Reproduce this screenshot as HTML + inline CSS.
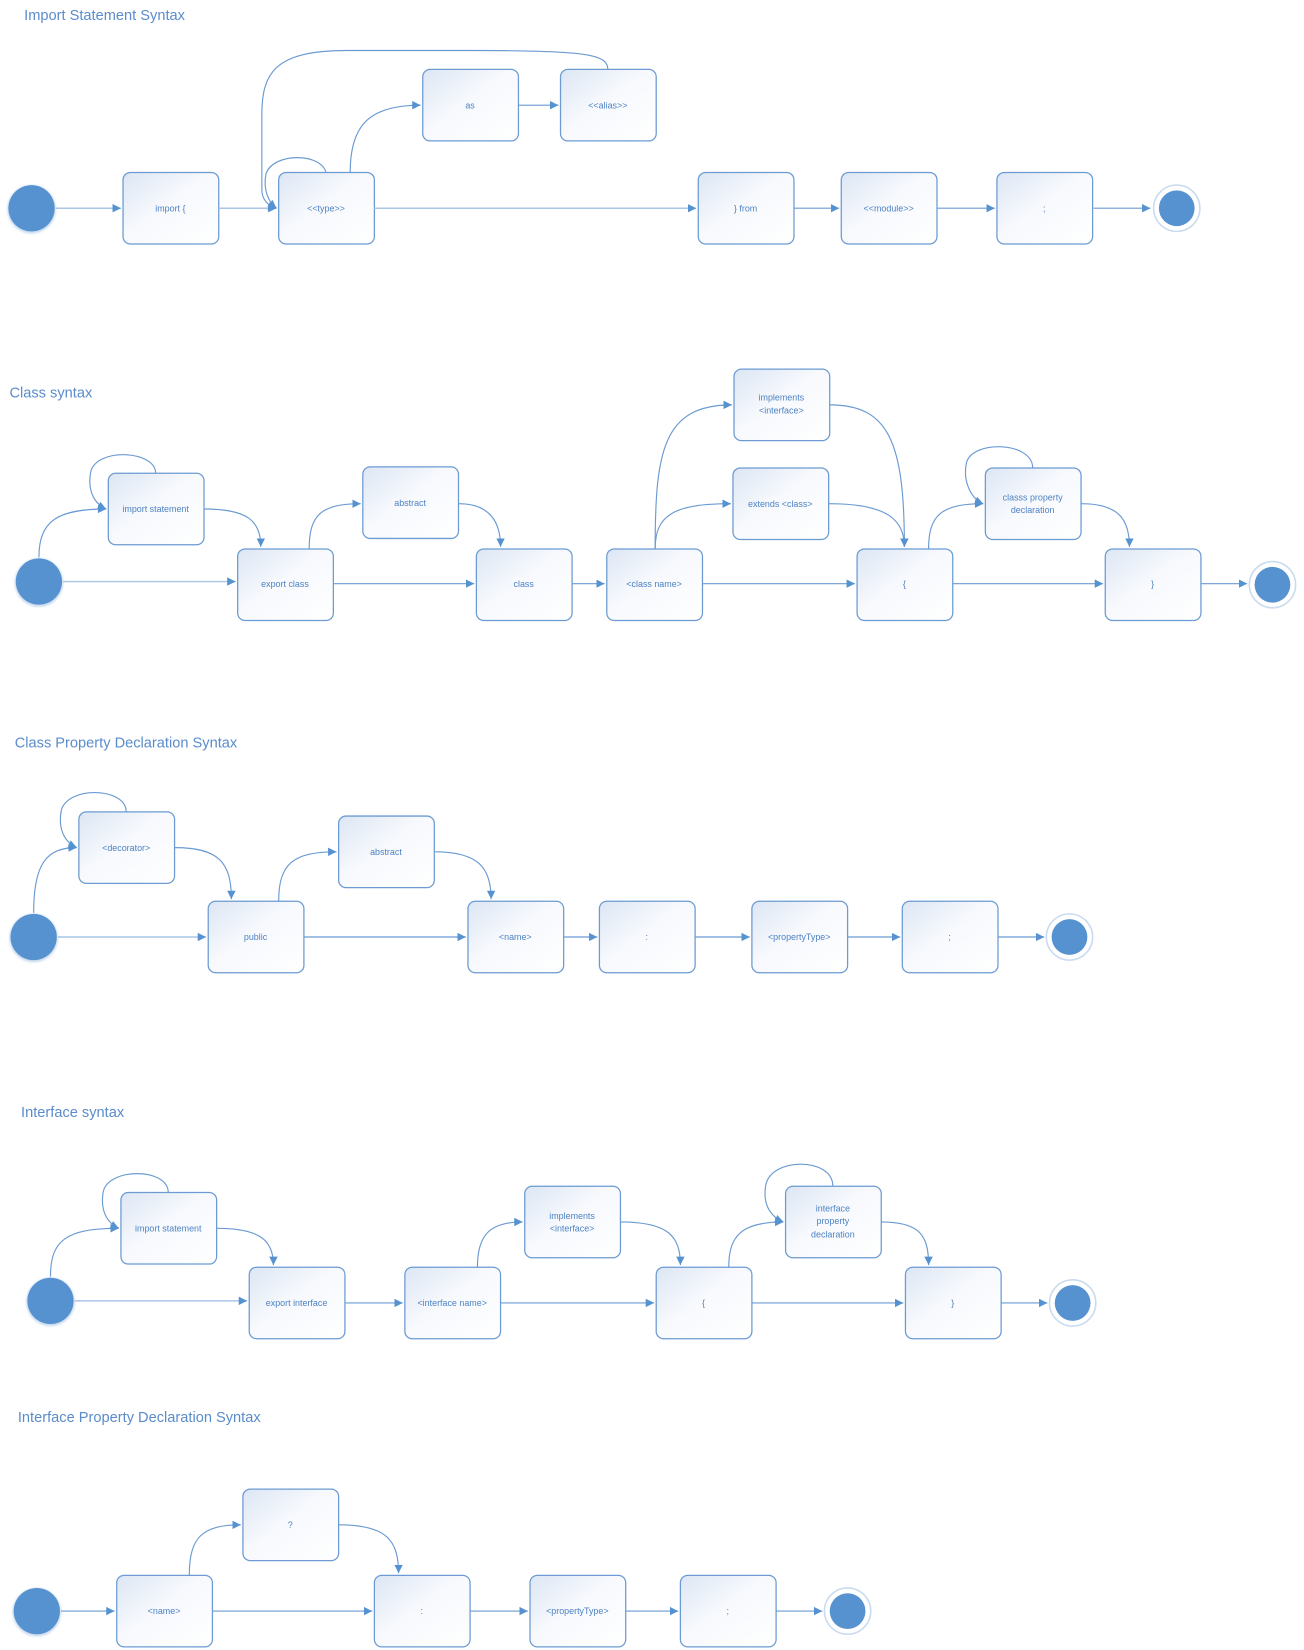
<!DOCTYPE html>
<html><head><meta charset="utf-8"><style>
html,body{margin:0;padding:0;background:#fff;}
svg{display:block;}
.t{font-family:"Liberation Sans",sans-serif;font-size:13.9px;fill:#5a8ccb;}
.l{font-family:"Liberation Sans",sans-serif;font-size:8.5px;fill:#4d82c3;text-anchor:middle;}
.b{fill:url(#g);stroke:#6b9bd2;stroke-width:1.2;}
.c{fill:none;stroke:#6b9bd2;stroke-width:1.1;}
.h{fill:none;stroke:#a9c6e6;stroke-width:1.4;}
.s{fill:#5592cf;}
</style></head><body>
<svg width="1304" height="1650" viewBox="0 0 1240 1569" xmlns="http://www.w3.org/2000/svg">
<defs>
<linearGradient id="g" x1="0" y1="0" x2="1" y2="1"><stop offset="0" stop-color="#dce6f4"/><stop offset="0.45" stop-color="#f7f9fd"/><stop offset="1" stop-color="#ffffff"/></linearGradient>
<marker id="a" viewBox="0 0 10 10" refX="10" refY="5" markerWidth="8" markerHeight="8" markerUnits="userSpaceOnUse" orient="auto"><path d="M0,0 L10,5 L0,10 z" fill="#5592cf"/></marker>
<filter id="sh"><feGaussianBlur stdDeviation="1"/></filter>
</defs>

<!-- Section 1 -->
<text class="t" x="23" y="19">Import Statement Syntax</text>
<circle cx="30" cy="199" r="23" fill="#c7d9ee" filter="url(#sh)"/><circle class="s" cx="30" cy="198" r="22"/>
<rect class="b" x="117" y="164" width="91" height="68" rx="7"/><text class="l" x="162" y="201">import {</text>
<rect class="b" x="265" y="164" width="91" height="68" rx="7"/><text class="l" x="310" y="201">&lt;&lt;type&gt;&gt;</text>
<rect class="b" x="402" y="66" width="91" height="68" rx="7"/><text class="l" x="447" y="103">as</text>
<rect class="b" x="533" y="66" width="91" height="68" rx="7"/><text class="l" x="578" y="103">&lt;&lt;alias&gt;&gt;</text>
<rect class="b" x="664" y="164" width="91" height="68" rx="7"/><text class="l" x="709" y="201">} from</text>
<rect class="b" x="800" y="164" width="91" height="68" rx="7"/><text class="l" x="845" y="201">&lt;&lt;module&gt;&gt;</text>
<rect class="b" x="948" y="164" width="91" height="68" rx="7"/><text class="l" x="993" y="201">;</text>
<circle cx="1119" cy="198" r="22" fill="#fff" stroke="#c9dbef" stroke-width="1.5"/><circle class="s" cx="1119" cy="198" r="17"/>
<path class="h" d="M53,198 H115" marker-end="url(#a)"/>
<path class="h" d="M208,198 H263" marker-end="url(#a)"/>
<path class="h" d="M356,198 H662" marker-end="url(#a)"/>
<path class="c" d="M755,198 H798" marker-end="url(#a)"/>
<path class="c" d="M891,198 H946" marker-end="url(#a)"/>
<path class="c" d="M1040,198 H1094" marker-end="url(#a)"/>
<path class="c" d="M493,100 H531" marker-end="url(#a)"/>
<path class="c" d="M333,164 C333,120 350,100 400,100" marker-end="url(#a)"/>
<path class="c" d="M310,164 C305,145 260,145 253,165 C250,180 255,192 263,198" marker-end="url(#a)"/>
<path class="c" d="M578,66 C578,52 560,48 450,48 L330,48 C260,48 249,70 249,110 L249,180 C249,190 255,196 263,198" marker-end="url(#a)"/>

<!-- Section 2 -->
<text class="t" x="9" y="378">Class syntax</text>
<circle cx="37" cy="554" r="23" fill="#c7d9ee" filter="url(#sh)"/><circle class="s" cx="37" cy="553" r="22"/>
<rect class="b" x="103" y="450" width="91" height="68" rx="7"/><text class="l" x="148" y="487">import statement</text>
<rect class="b" x="226" y="522" width="91" height="68" rx="7"/><text class="l" x="271" y="558">export class</text>
<rect class="b" x="345" y="444" width="91" height="68" rx="7"/><text class="l" x="390" y="481">abstract</text>
<rect class="b" x="453" y="522" width="91" height="68" rx="7"/><text class="l" x="498" y="558">class</text>
<rect class="b" x="577" y="522" width="91" height="68" rx="7"/><text class="l" x="622" y="558">&lt;class name&gt;</text>
<rect class="b" x="698" y="351" width="91" height="68" rx="7"/><text class="l" x="743" y="381">implements</text><text class="l" x="743" y="393">&lt;interface&gt;</text>
<rect class="b" x="697" y="445" width="91" height="68" rx="7"/><text class="l" x="742" y="482">extends &lt;class&gt;</text>
<rect class="b" x="815" y="522" width="91" height="68" rx="7"/><text class="l" x="860" y="558">{</text>
<rect class="b" x="937" y="445" width="91" height="68" rx="7"/><text class="l" x="982" y="476">classs property</text><text class="l" x="982" y="488">declaration</text>
<rect class="b" x="1051" y="522" width="91" height="68" rx="7"/><text class="l" x="1096" y="558">}</text>
<circle cx="1210" cy="556" r="22" fill="#fff" stroke="#c9dbef" stroke-width="1.5"/><circle class="s" cx="1210" cy="556" r="17"/>
<path class="h" d="M60,553 H224" marker-end="url(#a)"/>
<path class="c" d="M317,555 H451" marker-end="url(#a)"/>
<path class="c" d="M544,555 H575" marker-end="url(#a)"/>
<path class="c" d="M668,555 H813" marker-end="url(#a)"/>
<path class="c" d="M906,555 H1049" marker-end="url(#a)"/>
<path class="c" d="M1142,555 H1186" marker-end="url(#a)"/>
<path class="c" d="M37,530 C37,495 55,484 101,484" marker-end="url(#a)"/>
<path class="c" d="M148,450 C148,428 90,425 86,450 C83,470 92,480 101,484" marker-end="url(#a)"/>
<path class="c" d="M194,484 C235,484 248,495 248,520" marker-end="url(#a)"/>
<path class="c" d="M294,522 C294,490 305,479 343,479" marker-end="url(#a)"/>
<path class="c" d="M436,479 C465,479 476,495 476,520" marker-end="url(#a)"/>
<path class="c" d="M623,522 C623,430 630,385 696,385" marker-end="url(#a)"/>
<path class="c" d="M623,522 C623,490 640,479 695,479" marker-end="url(#a)"/>
<path class="c" d="M789,385 C845,385 860,420 860,520" marker-end="url(#a)"/>
<path class="c" d="M788,479 C845,479 860,495 860,520" marker-end="url(#a)"/>
<path class="c" d="M883,522 C883,490 895,479 935,479" marker-end="url(#a)"/>
<path class="c" d="M982,445 C982,420 925,418 919,440 C915,460 925,475 935,479" marker-end="url(#a)"/>
<path class="c" d="M1028,479 C1065,479 1074,495 1074,520" marker-end="url(#a)"/>

<!-- Section 3 -->
<text class="t" x="14" y="711">Class Property Declaration Syntax</text>
<circle cx="32" cy="892" r="23" fill="#c7d9ee" filter="url(#sh)"/><circle class="s" cx="32" cy="891" r="22"/>
<rect class="b" x="75" y="772" width="91" height="68" rx="7"/><text class="l" x="120" y="809">&lt;decorator&gt;</text>
<rect class="b" x="198" y="857" width="91" height="68" rx="7"/><text class="l" x="243" y="894">public</text>
<rect class="b" x="322" y="776" width="91" height="68" rx="7"/><text class="l" x="367" y="813">abstract</text>
<rect class="b" x="445" y="857" width="91" height="68" rx="7"/><text class="l" x="490" y="894">&lt;name&gt;</text>
<rect class="b" x="570" y="857" width="91" height="68" rx="7"/><text class="l" x="615" y="894">:</text>
<rect class="b" x="715" y="857" width="91" height="68" rx="7"/><text class="l" x="760" y="894">&lt;propertyType&gt;</text>
<rect class="b" x="858" y="857" width="91" height="68" rx="7"/><text class="l" x="903" y="894">;</text>
<circle cx="1017" cy="891" r="22" fill="#fff" stroke="#c9dbef" stroke-width="1.5"/><circle class="s" cx="1017" cy="891" r="17"/>
<path class="h" d="M55,891 H196" marker-end="url(#a)"/>
<path class="c" d="M289,891 H443" marker-end="url(#a)"/>
<path class="c" d="M536,891 H568" marker-end="url(#a)"/>
<path class="c" d="M661,891 H713" marker-end="url(#a)"/>
<path class="c" d="M806,891 H856" marker-end="url(#a)"/>
<path class="c" d="M949,891 H993" marker-end="url(#a)"/>
<path class="c" d="M32,868 C32,820 45,806 73,806" marker-end="url(#a)"/>
<path class="c" d="M120,772 C120,748 62,747 58,772 C55,792 64,802 73,806" marker-end="url(#a)"/>
<path class="c" d="M166,806 C208,806 220,820 220,855" marker-end="url(#a)"/>
<path class="c" d="M265,857 C265,822 278,810 320,810" marker-end="url(#a)"/>
<path class="c" d="M413,810 C455,810 467,825 467,855" marker-end="url(#a)"/>

<!-- Section 4 -->
<text class="t" x="20" y="1062">Interface syntax</text>
<circle cx="48" cy="1238" r="23" fill="#c7d9ee" filter="url(#sh)"/><circle class="s" cx="48" cy="1237" r="22"/>
<rect class="b" x="115" y="1134" width="91" height="68" rx="7"/><text class="l" x="160" y="1171">import statement</text>
<rect class="b" x="237" y="1205" width="91" height="68" rx="7"/><text class="l" x="282" y="1242">export interface</text>
<rect class="b" x="385" y="1205" width="91" height="68" rx="7"/><text class="l" x="430" y="1242">&lt;interface name&gt;</text>
<rect class="b" x="499" y="1128" width="91" height="68" rx="7"/><text class="l" x="544" y="1159">implements</text><text class="l" x="544" y="1171">&lt;interface&gt;</text>
<rect class="b" x="624" y="1205" width="91" height="68" rx="7"/><text class="l" x="669" y="1242">{</text>
<rect class="b" x="747" y="1128" width="91" height="68" rx="7"/><text class="l" x="792" y="1152">interface</text><text class="l" x="792" y="1164">property</text><text class="l" x="792" y="1177">declaration</text>
<rect class="b" x="861" y="1205" width="91" height="68" rx="7"/><text class="l" x="906" y="1242">}</text>
<circle cx="1020" cy="1239" r="22" fill="#fff" stroke="#c9dbef" stroke-width="1.5"/><circle class="s" cx="1020" cy="1239" r="17"/>
<path class="h" d="M71,1237 H235" marker-end="url(#a)"/>
<path class="c" d="M328,1239 H383" marker-end="url(#a)"/>
<path class="c" d="M476,1239 H622" marker-end="url(#a)"/>
<path class="c" d="M715,1239 H859" marker-end="url(#a)"/>
<path class="c" d="M952,1239 H996" marker-end="url(#a)"/>
<path class="c" d="M48,1214 C48,1180 62,1168 113,1168" marker-end="url(#a)"/>
<path class="c" d="M160,1134 C160,1110 102,1110 98,1134 C95,1154 104,1164 113,1168" marker-end="url(#a)"/>
<path class="c" d="M206,1168 C248,1168 260,1180 260,1203" marker-end="url(#a)"/>
<path class="c" d="M454,1205 C454,1175 465,1162 497,1162" marker-end="url(#a)"/>
<path class="c" d="M590,1162 C635,1162 647,1175 647,1203" marker-end="url(#a)"/>
<path class="c" d="M693,1205 C693,1175 705,1162 745,1162" marker-end="url(#a)"/>
<path class="c" d="M792,1128 C792,1100 732,1100 728,1128 C725,1148 735,1158 745,1162" marker-end="url(#a)"/>
<path class="c" d="M838,1162 C875,1162 883,1175 883,1203" marker-end="url(#a)"/>

<!-- Section 5 -->
<text class="t" x="17" y="1352">Interface Property Declaration Syntax</text>
<circle cx="35" cy="1533" r="23" fill="#c7d9ee" filter="url(#sh)"/><circle class="s" cx="35" cy="1532" r="22"/>
<rect class="b" x="111" y="1498" width="91" height="68" rx="7"/><text class="l" x="156" y="1535">&lt;name&gt;</text>
<rect class="b" x="231" y="1416" width="91" height="68" rx="7"/><text class="l" x="276" y="1453">?</text>
<rect class="b" x="356" y="1498" width="91" height="68" rx="7"/><text class="l" x="401" y="1535">:</text>
<rect class="b" x="504" y="1498" width="91" height="68" rx="7"/><text class="l" x="549" y="1535">&lt;propertyType&gt;</text>
<rect class="b" x="647" y="1498" width="91" height="68" rx="7"/><text class="l" x="692" y="1535">;</text>
<circle cx="806" cy="1532" r="22" fill="#fff" stroke="#c9dbef" stroke-width="1.5"/><circle class="s" cx="806" cy="1532" r="17"/>
<path class="c" d="M58,1532 H109" marker-end="url(#a)"/>
<path class="c" d="M202,1532 H354" marker-end="url(#a)"/>
<path class="c" d="M447,1532 H502" marker-end="url(#a)"/>
<path class="c" d="M595,1532 H645" marker-end="url(#a)"/>
<path class="c" d="M738,1532 H782" marker-end="url(#a)"/>
<path class="c" d="M180,1498 C180,1462 192,1450 229,1450" marker-end="url(#a)"/>
<path class="c" d="M322,1450 C368,1450 379,1465 379,1496" marker-end="url(#a)"/>
</svg>
</body></html>
